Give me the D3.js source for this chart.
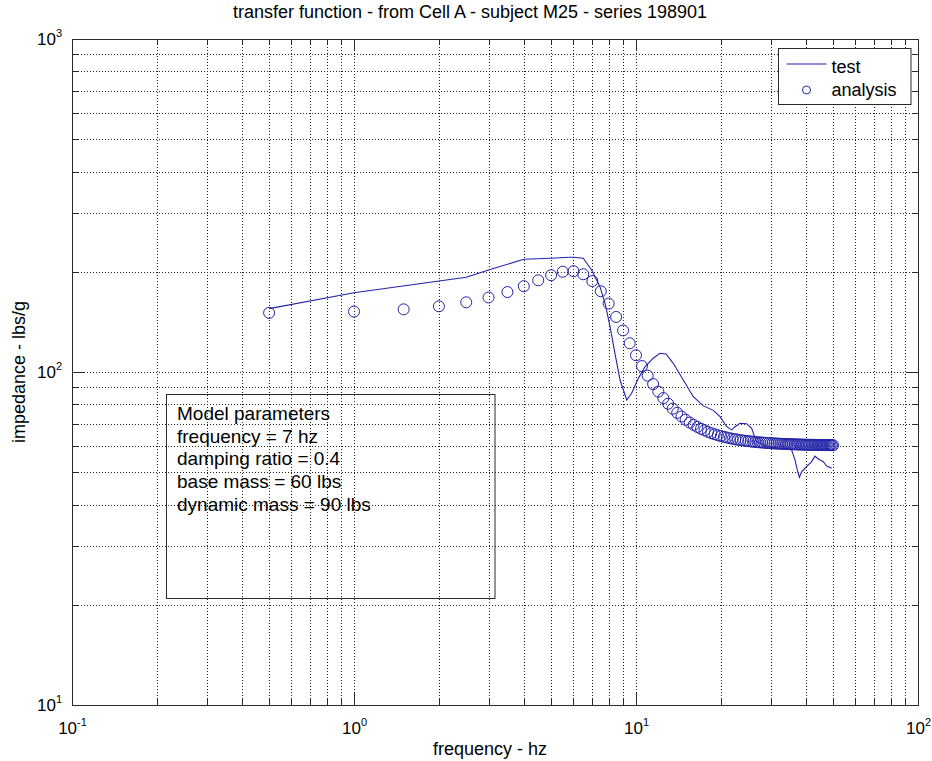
<!DOCTYPE html>
<html>
<head>
<meta charset="utf-8">
<script src="https://cdn.jsdelivr.net/npm/d3@7"></script>
<style>
  body { margin: 0; background: #fff; }
  svg { display: block; font-family: "Liberation Sans", Arial, Helvetica, sans-serif; }
</style>
</head>
<body>
<svg id="chart" width="932" height="761"></svg>
<script>
// ---- text ----
const titleText = "transfer function - from Cell A - subject M25 - series 198901";
const xLabel = "frequency - hz";
const yLabel = "impedance - lbs/g";
const legendLabels = ["test", "analysis"];
const modelLines = [
  "Model parameters",
  "frequency = 7 hz",
  "damping ratio = 0.4",
  "base mass = 60 lbs",
  "dynamic mass = 90 lbs"
];

// ---- tick labels (powers of ten) ----
const xMajorTicks = [0.1, 1, 10, 100];
const xTickExponents = ["-1", "0", "1", "2"];
const yMajorTicks = [10, 100, 1000];
const yTickExponents = ["1", "2", "3"];

// ---- measured transfer function (test) ----
const testFreq = [0.5, 1.0, 2.5, 3.0, 4.0, 4.95, 5.83, 6.0, 6.5, 6.96,
  7.45, 7.77, 8.09, 8.42, 8.78, 9.27, 9.65, 10.19, 10.76, 11.51,
  12.16, 12.78, 13.56, 14.71, 15.97, 17.33, 18.80, 19.86, 20.97, 21.85,
  22.45, 23.38, 24.69, 25.72, 26.21, 26.79, 29.07, 32.40, 34.22, 35.65,
  36.64, 37.33, 37.95, 38.70, 39.75, 40.83, 41.98, 43.13, 43.95, 44.93,
  46.15, 47.45, 49.43];
const testImp = [155, 173, 192.5, 202.4, 218, 219.5, 221, 221, 219.5, 202.4,
  180.4, 160.8, 136.8, 113.8, 94.6, 82.4, 86.3, 95.7, 103.7, 110,
  113.8, 113.3, 106.2, 94.6, 84.3, 79.1, 76.7, 73.4, 68.5, 67.0,
  68.5, 70.1, 69.9, 67.7, 64.7, 61.8, 59.7, 59.0, 59.0, 58.3,
  54.4, 50.8, 48.3, 50.2, 51.4, 52.6, 53.8, 55.9, 55.1, 54.4,
  53.8, 52.2, 51.4];

// ---- model prediction (analysis) ----
const analysisFreq = [0.5, 1, 1.5, 2, 2.5, 3, 3.5, 4, 4.5, 5,
  5.5, 6, 6.5, 7, 7.5, 8, 8.5, 9, 9.5, 10,
  10.5, 11, 11.5, 12, 12.5, 13, 13.5, 14, 14.5, 15,
  15.5, 16, 16.5, 17, 17.5, 18, 18.5, 19, 19.5, 20,
  20.5, 21, 21.5, 22, 22.5, 23, 23.5, 24, 24.5, 25,
  25.5, 26, 26.5, 27, 27.5, 28, 28.5, 29, 29.5, 30,
  30.5, 31, 31.5, 32, 32.5, 33, 33.5, 34, 34.5, 35,
  35.5, 36, 36.5, 37, 37.5, 38, 38.5, 39, 39.5, 40,
  40.5, 41, 41.5, 42, 42.5, 43, 43.5, 44, 44.5, 45,
  45.5, 46, 46.5, 47, 47.5, 48, 48.5, 49, 49.5, 50];
const analysisImp = [150.5, 151.9, 154.2, 157.5, 161.9, 167.4, 173.8, 181.0, 188.5, 195.3,
  200.0, 200.8, 196.6, 187.5, 174.8, 160.5, 146.3, 133.3, 122.0, 112.3,
  104.2, 97.5, 92.0, 87.3, 83.5, 80.3, 77.6, 75.4, 73.5, 71.9,
  70.5, 69.4, 68.4, 67.5, 66.8, 66.1, 65.5, 65.0, 64.6, 64.2,
  63.85, 63.55, 63.27, 63.03, 62.81, 62.61, 62.43, 62.27, 62.12, 61.98,
  61.86, 61.75, 61.65, 61.55, 61.47, 61.39, 61.31, 61.25, 61.18, 61.12,
  61.07, 61.02, 60.97, 60.93, 60.89, 60.85, 60.81, 60.78, 60.75, 60.72,
  60.69, 60.66, 60.64, 60.61, 60.59, 60.57, 60.55, 60.53, 60.51, 60.50,
  60.48, 60.47, 60.45, 60.44, 60.42, 60.41, 60.40, 60.39, 60.38, 60.36,
  60.35, 60.34, 60.33, 60.33, 60.32, 60.31, 60.30, 60.29, 60.29, 60.28];

// ---- layout ----
const W = 932, H = 761;
const margin = { top: 39, right: 14, bottom: 56, left: 72 };
const plotW = W - margin.left - margin.right;
const plotH = H - margin.top - margin.bottom;
const markColor = "#2323a8";
const axisColor = "#2a2a2a";
const fontTick = 17, fontLabel = 18, fontBox = 19;

const svg = d3.select("#chart");

const x = d3.scaleLog().domain([0.1, 100]).range([margin.left, W - margin.right]);
const y = d3.scaleLog().domain([10, 1000]).range([H - margin.bottom, margin.top]);

const isDecade = v => Math.abs(Math.log10(v) - Math.round(Math.log10(v))) < 1e-9;
const allX = x.ticks();
const allY = y.ticks();
const minorX = allX.filter(v => !isDecade(v));
const minorY = allY.filter(v => !isDecade(v));

// ---- dotted grid at every major and minor tick ----
const grid = svg.append("g");
grid.append("g")
  .attr("transform", `translate(0,${margin.top + plotH})`)
  .call(d3.axisBottom(x).tickValues(allX).tickSize(-plotH).tickFormat(""))
  .call(g => g.select(".domain").remove())
  .call(g => g.selectAll("line")
    .attr("stroke", "#222").attr("stroke-dasharray", "1,2").attr("shape-rendering", "crispEdges"));
grid.append("g")
  .attr("transform", `translate(${margin.left},0)`)
  .call(d3.axisLeft(y).tickValues(allY).tickSize(-plotW).tickFormat(""))
  .call(g => g.select(".domain").remove())
  .call(g => g.selectAll("line")
    .attr("stroke", "#222").attr("stroke-dasharray", "1,2").attr("shape-rendering", "crispEdges"));

// ---- inward ticks on all four sides ----
const majorLen = 12, minorLen = 6;
function tickSet(axisFn, scale, values, len, tx, ty) {
  svg.append("g")
    .attr("transform", `translate(${tx},${ty})`)
    .call(axisFn(scale).tickValues(values).tickSize(-len).tickFormat(""))
    .call(g => g.select(".domain").remove())
    .call(g => g.selectAll("line").attr("stroke", axisColor).attr("shape-rendering", "crispEdges"));
}
const bottomY = margin.top + plotH, rightX = margin.left + plotW;
tickSet(d3.axisBottom, x, xMajorTicks, majorLen, 0, bottomY);
tickSet(d3.axisBottom, x, minorX, minorLen, 0, bottomY);
tickSet(d3.axisTop, x, xMajorTicks, majorLen, 0, margin.top);
tickSet(d3.axisTop, x, minorX, minorLen, 0, margin.top);
tickSet(d3.axisLeft, y, yMajorTicks, majorLen, margin.left, 0);
tickSet(d3.axisLeft, y, minorY, minorLen, margin.left, 0);
tickSet(d3.axisRight, y, yMajorTicks, majorLen, rightX, 0);
tickSet(d3.axisRight, y, minorY, minorLen, rightX, 0);

// ---- frame ----
svg.append("rect")
  .attr("x", margin.left).attr("y", margin.top)
  .attr("width", plotW).attr("height", plotH)
  .attr("fill", "none").attr("stroke", axisColor).attr("shape-rendering", "crispEdges");

// ---- power-of-ten tick labels ----
function powerLabel(textSel, exponent) {
  textSel.text(null);
  textSel.append("tspan").text("10");
  textSel.append("tspan").attr("dy", -8).attr("font-size", 11).text(exponent);
}
svg.append("g")
  .attr("transform", `translate(0,${bottomY})`)
  .call(d3.axisBottom(x).tickValues(xMajorTicks).tickSize(0).tickPadding(17))
  .call(g => g.select(".domain").remove())
  .call(g => g.selectAll(".tick text")
    .attr("font-size", fontTick).attr("font-family", null).attr("fill", "#000")
    .attr("dy", null).attr("y", 29)
    .each(function (d, i) { powerLabel(d3.select(this), xTickExponents[i]); }));
svg.append("g")
  .attr("transform", `translate(${margin.left},0)`)
  .call(d3.axisLeft(y).tickValues(yMajorTicks).tickSize(0).tickPadding(10))
  .call(g => g.select(".domain").remove())
  .call(g => g.selectAll(".tick text")
    .attr("font-size", fontTick).attr("font-family", null).attr("fill", "#000")
    .attr("dy", "0.32em")
    .each(function (d, i) { powerLabel(d3.select(this), yTickExponents[i]); }));

// ---- test curve ----
const testData = testFreq.map((f, i) => ({ f, v: testImp[i] }));
svg.append("path")
  .datum(testData)
  .attr("fill", "none").attr("stroke", markColor).attr("stroke-width", 1.1)
  .attr("d", d3.line().x(d => x(d.f)).y(d => y(d.v)));

// ---- analysis markers ----
const analysisData = analysisFreq.map((f, i) => ({ f, v: analysisImp[i] }));
svg.append("g").selectAll("circle")
  .data(analysisData)
  .join("circle")
  .attr("cx", d => x(d.f)).attr("cy", d => y(d.v)).attr("r", 5.5)
  .attr("fill", "none").attr("stroke", markColor).attr("stroke-width", 1);

// ---- model parameter box ----
const boxX = 166.5, boxY = 394.5, boxW = 328.5, boxH = 204;
svg.append("rect")
  .attr("x", boxX).attr("y", boxY).attr("width", boxW).attr("height", boxH)
  .attr("fill", "none").attr("stroke", axisColor);
svg.append("g").selectAll("text")
  .data(modelLines)
  .join("text")
  .attr("x", boxX + 10.5).attr("y", (d, i) => boxY + 25.5 + i * 22.7)
  .attr("font-size", fontBox).attr("fill", "#000")
  .text(d => d);

// ---- legend ----
const lg = svg.append("g").attr("transform", "translate(778.5,48.5)");
lg.append("rect").attr("width", 132.5).attr("height", 56)
  .attr("fill", "#fff").attr("stroke", axisColor);
lg.append("line").attr("x1", 8).attr("x2", 48).attr("y1", 15.5).attr("y2", 15.5)
  .attr("stroke", markColor).attr("stroke-width", 1.1);
lg.append("circle").attr("cx", 28).attr("cy", 41.5).attr("r", 4)
  .attr("fill", "none").attr("stroke", markColor);
lg.selectAll("text.leg")
  .data(legendLabels)
  .join("text").attr("class", "leg")
  .attr("x", 53).attr("y", (d, i) => 24.5 + i * 23)
  .attr("font-size", fontLabel).attr("fill", "#000")
  .text(d => d);

// ---- title and axis labels ----
svg.append("text").attr("x", 470).attr("y", 18).attr("text-anchor", "middle")
  .attr("font-size", fontLabel).text(titleText);
svg.append("text").attr("x", 490).attr("y", 755).attr("text-anchor", "middle")
  .attr("font-size", fontLabel).text(xLabel);
svg.append("text")
  .attr("transform", `translate(25,${margin.top + plotH / 2}) rotate(-90)`)
  .attr("text-anchor", "middle").attr("font-size", fontLabel).text(yLabel);
</script>
</body>
</html>
